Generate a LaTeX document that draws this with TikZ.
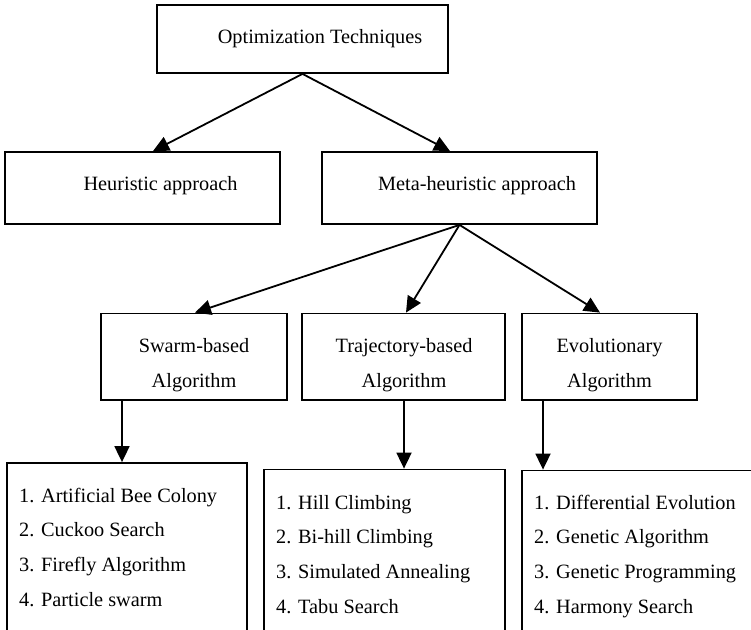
\documentclass[tikz,border=0pt]{standalone}
\usepackage{fontspec}
\setmainfont{Liberation Serif}
\usetikzlibrary{arrows.meta}

\tikzset{
  boxnode/.style={draw, line width=1.8pt, rectangle, inner sep=0pt},
  lbl/.style={inner sep=0pt, anchor=base},
  item/.style={inner sep=0pt, anchor=base west},
  arr/.style={line width=1.8pt, -{Triangle[length=16pt,width=15pt]}},
}

\begin{document}
\begin{tikzpicture}[x=1pt, y=-1pt, font=\fontsize{20.3}{24}\selectfont]
  \clip (0,0) rectangle (751,629);

  % root
  \node[boxnode, minimum width=291pt, minimum height=68pt] (opt) at (302.5,39) {};
  \node[lbl] (optT) at (320,43) {Optimization Techniques};

  % first level
  \node[boxnode, minimum width=275pt, minimum height=72pt] (heur) at (142.5,188) {};
  \node[lbl] (heurT) at (160.5,190.5) {Heuristic approach};
  \node[boxnode, minimum width=275pt, minimum height=72pt] (meta) at (459.5,188) {};
  \node[lbl] (metaT) at (477,190.5) {Meta-heuristic approach};

  % second level
  \node[boxnode, minimum width=186pt, minimum height=86.5pt] (swarm) at (194,356.75) {};
  \node[lbl] (swarmT1) at (194,352) {Swarm-based};
  \node[lbl] (swarmT2) at (194,387) {Algorithm};
  \node[boxnode, minimum width=203pt, minimum height=86.5pt] (traj) at (403.5,356.75) {};
  \node[lbl] (trajT1) at (404,352) {Trajectory-based};
  \node[lbl] (trajT2) at (404,387) {Algorithm};
  \node[boxnode, minimum width=175pt, minimum height=86.5pt] (evol) at (609.5,356.75) {};
  \node[lbl] (evolT1) at (609.5,352) {Evolutionary};
  \node[lbl] (evolT2) at (609.5,387) {Algorithm};

  % lists of algorithms (boxes run past the lower edge)
  \node[boxnode, minimum width=240pt, minimum height=200pt] (swl) at (127,563) {};
  \node[item] (swl1) at (19,502)   {1. Artificial Bee Colony};
  \node[item] (swl2) at (19,536.8) {2. Cuckoo Search};
  \node[item] (swl3) at (19,571.6) {3. Firefly Algorithm};
  \node[item] (swl4) at (19,606.4) {4. Particle swarm};

  \node[boxnode, minimum width=241pt, minimum height=200pt] (trl) at (384.5,569.5) {};
  \node[item] (trl1) at (276,509)   {1. Hill Climbing};
  \node[item] (trl2) at (276,543.8) {2. Bi-hill Climbing};
  \node[item] (trl3) at (276,578.6) {3. Simulated Annealing};
  \node[item] (trl4) at (276,613.4) {4. Tabu Search};

  \node[boxnode, minimum width=258pt, minimum height=200pt] (evl) at (651,570.5) {};
  \node[item] (evl1) at (534,509)   {1. Differential Evolution};
  \node[item] (evl2) at (534,543.8) {2. Genetic Algorithm};
  \node[item] (evl3) at (534,578.6) {3. Genetic Programming};
  \node[item] (evl4) at (534,613.4) {4. Harmony Search};

  % connectors
  \draw[arr] (opt.south) -- ([xshift=10.5pt]heur.north);
  \draw[arr] (opt.south) -- ([xshift=-9.5pt]meta.north);
  \draw[arr] (meta.south) -- ([xshift=1pt]swarm.north);
  \draw[arr] (meta.south) -- ([xshift=2.5pt]traj.north);
  \draw[arr] (meta.south) -- ([xshift=-9.5pt]evol.north);
  \draw[arr] ([xshift=-72pt]swarm.south) -- ([xshift=-5pt]swl.north);
  \draw[arr] ([xshift=0.5pt]traj.south) -- ([xshift=19.5pt]trl.north);
  \draw[arr] ([xshift=-66.5pt]evol.south) -- ([xshift=-108pt]evl.north);
\end{tikzpicture}
\end{document}
